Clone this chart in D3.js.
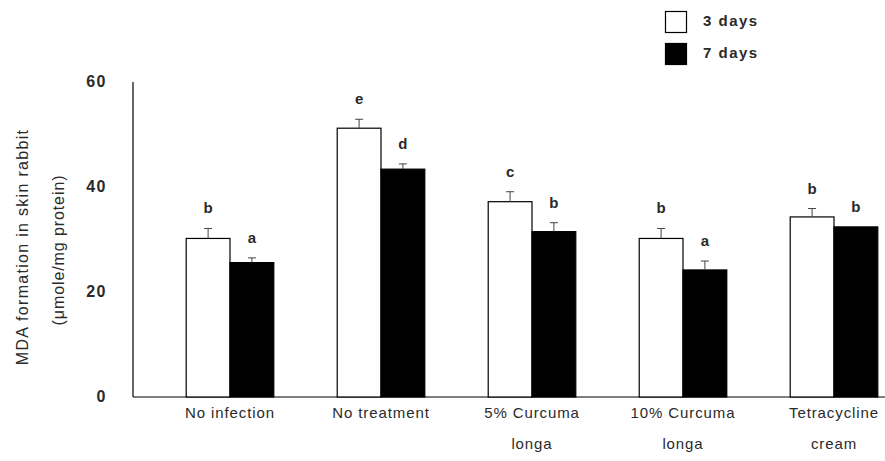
<!DOCTYPE html>
<html><head><meta charset="utf-8">
<script src="https://cdn.jsdelivr.net/npm/d3@7"></script>
<style>body{margin:0;background:#fff}svg{display:block}text{font-family:"Liberation Sans",Arial,sans-serif}</style>
</head><body>
<svg id="c" width="885" height="461"></svg>
<script>
const categories = [["No infection"],["No treatment"],["5% Curcuma","longa"],["10% Curcuma","longa"],["Tetracycline","cream"]];
const series = ["3 days","7 days"];
const day3 = [30.2, 51.2, 37.2, 30.2, 34.3];
const day3Err = [1.9, 1.7, 1.9, 1.9, 1.6];
const day7 = [25.6, 43.4, 31.5, 24.2, 32.4];
const day7Err = [0.9, 1.0, 1.7, 1.7, 0];
const letters3 = ["b","e","c","b","b"];
const letters7 = ["a","d","b","a","b"];
const yTicks = [0,20,40,60];

const svg = d3.select("#c");
const y = d3.scaleLinear().domain([0,60]).range([397,82]);
const x = d3.scaleBand().domain(d3.range(categories.length)).range([154.5,909.5]).paddingInner(0.42).paddingOuter(0.21);
const sub = d3.scaleBand().domain(series).range([0, x.bandwidth()]);

svg.append("line").attr("x1",133).attr("x2",133).attr("y1",y(60)).attr("y2",y(0)).attr("stroke","#000").attr("stroke-width",1.2);
svg.append("line").attr("x1",133).attr("x2",885).attr("y1",y(0)).attr("y2",y(0)).attr("stroke","#000").attr("stroke-width",1.2);

svg.selectAll(".yt").data(yTicks).enter().append("text")
  .attr("x",107).attr("y",d=>y(d)+5).attr("text-anchor","end")
  .attr("font-size",16).attr("font-weight","bold").attr("letter-spacing",1.5).attr("fill","#2a2a2a").text(d=>d);

const data = categories.map((c,i)=>[
  {s:series[0], v:day3[i], e:day3Err[i], l:letters3[i], i},
  {s:series[1], v:day7[i], e:day7Err[i], l:letters7[i], i}
]).flat();

const g = svg.append("g");
g.selectAll("rect.bar").data(data).enter().append("rect")
  .attr("x",d=>x(d.i)+sub(d.s)).attr("width",sub.bandwidth())
  .attr("y",d=>y(d.v)).attr("height",d=>y(0)-y(d.v))
  .attr("fill",d=>d.s===series[0]?"#fff":"#000").attr("stroke","#000").attr("stroke-width",1.2);

const eb = data.filter(d=>d.e>0);
g.selectAll("line.ev").data(eb).enter().append("line")
  .attr("x1",d=>x(d.i)+sub(d.s)+sub.bandwidth()/2).attr("x2",d=>x(d.i)+sub(d.s)+sub.bandwidth()/2)
  .attr("y1",d=>y(d.v)).attr("y2",d=>y(d.v+d.e)).attr("stroke","#444").attr("stroke-width",1);
g.selectAll("line.ec").data(eb).enter().append("line")
  .attr("x1",d=>x(d.i)+sub(d.s)+sub.bandwidth()/2-4).attr("x2",d=>x(d.i)+sub(d.s)+sub.bandwidth()/2+4)
  .attr("y1",d=>y(d.v+d.e)).attr("y2",d=>y(d.v+d.e)).attr("stroke","#444").attr("stroke-width",1);

g.selectAll("text.lt").data(data).enter().append("text")
  .attr("x",d=>x(d.i)+sub(d.s)+sub.bandwidth()/2).attr("y",d=>y(d.v+d.e)-15)
  .attr("text-anchor","middle").attr("font-size",15).attr("font-weight","bold").attr("fill","#2a2a2a").text(d=>d.l);

categories.forEach((c,i)=>{
  const cx = x(i)+x.bandwidth()/2;
  const t = svg.append("text").attr("x",cx).attr("text-anchor","middle")
    .attr("font-size",15).attr("letter-spacing",0.9).attr("fill","#2a2a2a");
  c.forEach((line,k)=>t.append("tspan").attr("x",cx).attr("y",418+k*31).text(line));
});

svg.append("text").attr("transform","translate(28,247) rotate(-90)").attr("text-anchor","middle")
  .attr("font-size",16).attr("letter-spacing",1.3).attr("fill","#2a2a2a").text("MDA formation in skin rabbit");
svg.append("text").attr("transform","translate(64,250) rotate(-90)").attr("text-anchor","middle")
  .attr("font-size",16).attr("letter-spacing",0.9).attr("fill","#2a2a2a").text("(μmole/mg protein)");

const lg = svg.append("g");
series.forEach((s,k)=>{
  lg.append("rect").attr("x",665.5).attr("y",11.5+k*32).attr("width",21).attr("height",21)
    .attr("fill",k===0?"#fff":"#000").attr("stroke","#000").attr("stroke-width",1.2);
  lg.append("text").attr("x",703).attr("y",26+k*32).attr("font-size",15).attr("font-weight","bold").attr("letter-spacing",1.5).attr("fill","#2a2a2a").text(s);
});
</script>
</body></html>
